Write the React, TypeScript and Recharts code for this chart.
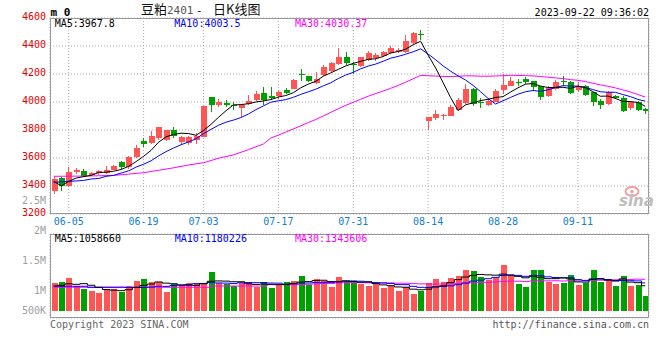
import { ComposedChart, Bar, Line, XAxis, YAxis, CartesianGrid } from "recharts";

const DATES = [
  "06-01", "06-02", "06-05", "06-06", "06-07", "06-08", "06-09", "06-12", "06-13", "06-14",
  "06-15", "06-16", "06-19", "06-20", "06-21", "06-26", "06-27", "06-28", "06-29", "06-30",
  "07-03", "07-04", "07-05", "07-06", "07-07", "07-10", "07-11", "07-12", "07-13", "07-14",
  "07-17", "07-18", "07-19", "07-20", "07-21", "07-24", "07-25", "07-26", "07-27", "07-28",
  "07-31", "08-01", "08-02", "08-03", "08-04", "08-07", "08-08", "08-09", "08-10", "08-11",
  "08-14", "08-15", "08-16", "08-17", "08-18", "08-21", "08-22", "08-23", "08-24", "08-25",
  "08-28", "08-29", "08-30", "08-31", "09-01", "09-04", "09-05", "09-06", "09-07", "09-08",
  "09-11", "09-12", "09-13", "09-14", "09-15", "09-18", "09-19", "09-20", "09-21", "09-22",
];

const OPEN = [
  3361, 3457, 3402, 3497, 3509, 3481, 3488, 3493, 3516, 3569,
  3533, 3607, 3724, 3712, 3747, 3726, 3802, 3712, 3707, 3731,
  3755, 4035, 3973, 3995, 3976, 3957, 3988, 4014, 4064, 4040,
  4040, 4088, 4095, 4200, 4188, 4135, 4188, 4219, 4266, 4319,
  4271, 4255, 4297, 4314, 4326, 4350, 4362, 4357, 4421, 4488,
  3862, 3888, 3902, 3902, 3945, 3993, 4095, 3997, 3981, 4004,
  4088, 4119, 4145, 4164, 4147, 4112, 4040, 4095, 4152, 4143,
  4081, 4117, 4069, 4007, 3983, 4045, 4031, 3955, 4000, 3950,
];
const HIGH = [
  3464, 3465, 3533, 3528, 3521, 3500, 3512, 3545, 3552, 3576,
  3612, 3695, 3742, 3790, 3824, 3802, 3824, 3759, 3759, 3776,
  3973, 4035, 4021, 4016, 3997, 3981, 4052, 4076, 4105, 4105,
  4088, 4100, 4166, 4238, 4188, 4214, 4267, 4283, 4386, 4355,
  4286, 4319, 4362, 4350, 4362, 4402, 4386, 4481, 4497, 4517,
  3890, 3940, 3917, 3981, 4028, 4131, 4100, 4028, 4021, 4095,
  4202, 4178, 4167, 4178, 4152, 4117, 4117, 4155, 4183, 4148,
  4140, 4121, 4069, 4021, 4076, 4052, 4040, 4004, 4004, 3957,
];
const LOW = [
  3342, 3361, 3395, 3488, 3464, 3474, 3478, 3488, 3512, 3521,
  3521, 3600, 3676, 3702, 3731, 3721, 3740, 3695, 3690, 3702,
  3750, 3926, 3962, 3964, 3945, 3893, 3978, 4004, 3976, 4016,
  4021, 4059, 4090, 4152, 4140, 4131, 4183, 4212, 4262, 4266,
  4202, 4248, 4290, 4290, 4319, 4345, 4350, 4350, 4414, 4445,
  3797, 3874, 3869, 3902, 3940, 3988, 3974, 3957, 3974, 3997,
  4059, 4117, 4116, 4128, 4076, 4016, 4035, 4083, 4117, 4055,
  4069, 4045, 3974, 3950, 3981, 4021, 3926, 3945, 3933, 3917,
];
const CLOSE = [
  3450, 3402, 3500, 3511, 3473, 3493, 3505, 3512, 3545, 3535,
  3604, 3674, 3702, 3759, 3824, 3797, 3759, 3747, 3747, 3759,
  3973, 3976, 3997, 3981, 3971, 3981, 4009, 4059, 4016, 4024,
  4069, 4064, 4159, 4193, 4155, 4167, 4248, 4278, 4319, 4274,
  4262, 4319, 4350, 4338, 4357, 4386, 4374, 4433, 4493, 4483,
  3890, 3917, 3907, 3964, 4016, 4095, 3988, 3988, 4009, 4081,
  4124, 4152, 4140, 4140, 4105, 4033, 4100, 4143, 4145, 4064,
  4112, 4052, 3997, 3981, 4069, 4031, 3940, 3997, 3945, 3936,
];
const VOLUME = [
  1130000, 1170000, 1340000, 1000000, 890000, 810000, 730000, 900000, 890000, 770000,
  1010000, 1210000, 1300000, 1170000, 1190000, 770000, 1090000, 1050000, 1130000, 1130000,
  1120000, 1590000, 1120000, 1090000, 1000000, 1120000, 1170000, 990000, 1170000, 940000,
  1080000, 1170000, 1230000, 1430000, 1040000, 1300000, 1230000, 980000, 1390000, 1210000,
  1170000, 1080000, 1010000, 1080000, 940000, 1010000, 820000, 960000, 680000, 810000,
  1130000, 1300000, 1170000, 1340000, 1420000, 1660000, 1620000, 1370000, 1260000, 1350000,
  1870000, 1450000, 1090000, 970000, 1660000, 1660000, 1170000, 1090000, 1130000, 1450000,
  1050000, 1130000, 1660000, 1170000, 1240000, 1010000, 1420000, 1010000, 1050000, 620000,
];

const MA5_HEAD = [3433, 3402, 3433, 3457];
const MA10_HEAD = [3426, 3430, 3433, 3436, 3440, 3450, 3454, 3469, 3476];
const MA30_HEAD = [
  3469, null, 3470, null, 3471, null, 3473, null, 3476, null,
  3485, null, 3495, null, 3512, null, 3530, null, 3550, null,
  3566, null, 3598, null, 3622, null, 3660, null, 3700,
];
const VOL_MA5_HEAD = [1010000, 1040000, 1100000, 1080000];
const VOL_MA10_HEAD = [1000000, 1000000, 1000000, 1000000, 1000000, 960000, 960000, 960000, 960000];
const VOL_MA30_HEAD = [
  960000, null, 960000, null, 960000, null, 960000, null, 960000, null,
  960000, null, 960000, null, 960000, null, 960000, null, 960000, null,
  960000, null, 1010000, null, 1010000, null, 1010000, null, 1010000,
];

const DATE_TICKS = ["06-05", "06-19", "07-03", "07-17", "07-31", "08-14", "08-28", "09-11"];
const PRICE_TICKS = [3200, 3400, 3600, 3800, 4000, 4200, 4400, 4600];
const VOL_DOMAIN = [-293500, 3131000];
const VOL_GRID = [563000, 1419000, 2275000];

const MONO = "'DejaVu Sans Mono', monospace";
const CJK = "'Noto Sans CJK SC', sans-serif";
const RED = "#ff5555";
const GREEN = "#00a000";
const BLUE = "#1080d0";
const GRID = "#aaaaaa";

function avg(values: number[], n: number, i: number) {
  let s = 0;
  for (let k = i - n + 1; k <= i; k++) s += values[k];
  return s / n;
}

const data = DATES.map((date, i) => ({
  date,
  open: OPEN[i],
  high: HIGH[i],
  low: LOW[i],
  close: CLOSE[i],
  range: [LOW[i], HIGH[i]],
  vol: VOLUME[i],
  ma5: i < 4 ? MA5_HEAD[i] : avg(CLOSE, 5, i),
  ma10: i < 9 ? MA10_HEAD[i] : avg(CLOSE, 10, i),
  ma30: i < 29 ? MA30_HEAD[i] : avg(CLOSE, 30, i),
  vma5: i < 4 ? VOL_MA5_HEAD[i] : avg(VOLUME, 5, i),
  vma10: i < 9 ? VOL_MA10_HEAD[i] : avg(VOLUME, 10, i),
  vma30: i < 29 ? VOL_MA30_HEAD[i] : avg(VOLUME, 30, i),
}));

function Candle(props: any) {
  const { x, y, width, height, payload } = props;
  const { open, close, high, low } = payload;
  const color = close >= open ? RED : GREEN;
  const k = height / (high - low);
  const yOpen = y + (high - open) * k;
  const yClose = y + (high - close) * k;
  const top = Math.round(Math.min(yOpen, yClose));
  const bh = Math.max(1, Math.round(Math.abs(yOpen - yClose)));
  const c = Math.floor(x + width / 2);
  return (
    <g shapeRendering="crispEdges">
      <line x1={c + 0.5} x2={c + 0.5} y1={y} y2={y + height} stroke={color} />
      <rect x={c - 2} y={top} width={6} height={bh} fill={color} />
    </g>
  );
}

function VolBar(props: any) {
  const { x, y, width, height, payload } = props;
  const color = payload.close >= payload.open ? RED : GREEN;
  const c = Math.floor(x + width / 2);
  return <rect x={c - 2} y={y} width={6} height={height} fill={color} shapeRendering="crispEdges" />;
}

function PriceTick(props: any) {
  const { x, y, payload } = props;
  return (
    <text x={x} y={y - 2} dy="0.36em" textAnchor="end" fill="#e00000" fontSize={10} fontFamily={MONO}>
      {payload.value}
    </text>
  );
}

export default function App() {
  return (
    <div style={{ position: "absolute", left: 0, top: 0, width: 660, height: 360, background: "#fff" }}>
      <div style={{ position: "absolute", left: 0, top: 0 }}>
        <ComposedChart width={660} height={240} data={data} margin={{ top: 18, right: 11, bottom: 10, left: 0 }}>
          <CartesianGrid stroke={GRID} strokeDasharray="1 2" />
          <XAxis
            dataKey="date"
            ticks={DATE_TICKS}
            interval={0}
            height={16}
            tickSize={0}
            tickMargin={4}
            axisLine={false}
            tick={{ fill: BLUE, fontSize: 10, fontFamily: MONO }}
          />
          <YAxis
            type="number"
            domain={[3200, 4600]}
            ticks={PRICE_TICKS}
            interval={0}
            allowDataOverflow
            width={50}
            tickSize={0}
            tickMargin={4}
            axisLine={false}
            tick={PriceTick}
          />
          <Bar dataKey="range" barSize={6} shape={Candle} isAnimationActive={false} />
          <Line dataKey="ma30" stroke="#ff00ff" strokeWidth={1} dot={false} connectNulls isAnimationActive={false} />
          <Line dataKey="ma10" stroke="#0000ff" strokeWidth={1} dot={false} isAnimationActive={false} />
          <Line dataKey="ma5" stroke="#000000" strokeWidth={1} dot={false} isAnimationActive={false} />
        </ComposedChart>
      </div>
      <div style={{ position: "absolute", left: 0, top: 230 }}>
        <ComposedChart width={660} height={92} data={data} margin={{ top: 4, right: 11, bottom: 4, left: 50 }}>
          <CartesianGrid stroke={GRID} strokeDasharray="1 2" />
          <XAxis dataKey="date" ticks={DATE_TICKS} interval={0} height={0} tick={false} tickLine={false} axisLine={false} />
          <YAxis
            type="number"
            domain={VOL_DOMAIN}
            ticks={VOL_GRID}
            interval={0}
            allowDataOverflow
            width={0}
            tick={false}
            tickLine={false}
            axisLine={false}
          />
          <Bar dataKey="vol" barSize={6} shape={VolBar} isAnimationActive={false} />
          <Line type="step" dataKey="vma30" stroke="#ff00ff" strokeWidth={1} dot={false} connectNulls isAnimationActive={false} />
          <Line type="step" dataKey="vma10" stroke="#0000ff" strokeWidth={1} dot={false} isAnimationActive={false} />
          <Line type="step" dataKey="vma5" stroke="#000000" strokeWidth={1} dot={false} isAnimationActive={false} />
        </ComposedChart>
      </div>
      <svg width={660} height={360} style={{ position: "absolute", left: 0, top: 0, pointerEvents: "none" }}>
        <rect x={50.5} y={18.5} width={598} height={195} fill="none" stroke="#999" />
        <rect x={50.5} y={234.5} width={598} height={83} fill="none" stroke="#999" />

        <text x={50.5} y={16} fontSize={11} fontWeight="bold" fontFamily={MONO} fill="#000">m 0</text>
        <text y={14} fontSize={13} fill="#111" fontFamily={CJK}>
          <tspan x={141}>豆粕</tspan>
          <tspan x={167} fontFamily={MONO} fill="#555" fontSize={11}>2401</tspan>
          <tspan x={196} fontFamily={MONO} fontSize={11}>-</tspan>
          <tspan x={213}>日K线图</tspan>
        </text>
        <text x={649} y={16} textAnchor="end" fontSize={10} fontFamily={MONO} fill="#000">2023-09-22 09:36:02</text>

        <text x={54.7} y={27.3} fontSize={10} fontFamily={MONO} fill="#000">MA5:3967.8</text>
        <text x={174.3} y={27.3} fontSize={10} fontFamily={MONO} fill="#0000ff">MA10:4003.5</text>
        <text x={295} y={27.3} fontSize={10} fontFamily={MONO} fill="#ff00ff">MA30:4030.37</text>

        <text x={54.7} y={242.3} fontSize={10} fontFamily={MONO} fill="#000">MA5:1058660</text>
        <text x={174.7} y={242.3} fontSize={10} fontFamily={MONO} fill="#0000ff">MA10:1180226</text>
        <text x={295} y={242.3} fontSize={10} fontFamily={MONO} fill="#ff00ff">MA30:1343606</text>

        <g fontSize={10} fontFamily={MONO} fill="#a0a0a0" textAnchor="end">
          <text x={46} y={204.3}>2.5M</text>
          <text x={46} y={234.3}>2M</text>
          <text x={46} y={264.3}>1.5M</text>
          <text x={46} y={294.3}>1M</text>
          <text x={46} y={314.3}>500K</text>
        </g>

        <text x={50} y={327.5} fontSize={10} fontFamily={MONO} fill="#666">Copyright 2023 SINA.COM</text>
        <text x={649} y={327.5} textAnchor="end" fontSize={10} fontFamily={MONO} fill="#555">http://finance.sina.com.cn</text>

        <ellipse cx={632} cy={191.5} rx={6.5} ry={4.5} fill="none" stroke="#f0a0a0" strokeWidth={2} />
        <circle cx={632} cy={191.5} r={1.8} fill="#f0a0a0" />
        <text x={619} y={206} fontSize={15} fontStyle="italic" fontWeight="bold" fontFamily="'DejaVu Sans', sans-serif" fill="#bdbdbd">sina</text>
      </svg>
    </div>
  );
}
